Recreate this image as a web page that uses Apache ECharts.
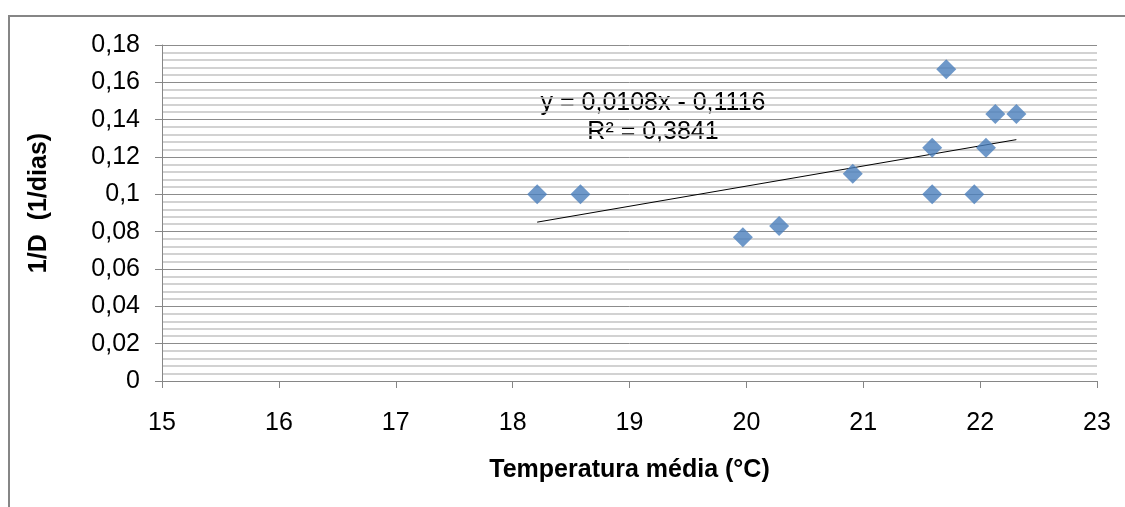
<!DOCTYPE html>
<html>
<head>
<meta charset="utf-8">
<script src="https://cdn.jsdelivr.net/npm/echarts@6/dist/echarts.min.js"></script>
<style>
  html, body { margin: 0; padding: 0; background: #fff; }
  #main { width: 1125px; height: 507px; }
</style>
</head>
<body>
<div id="main"></div>
<script>
// dados
var temperatura = [18.21, 18.58, 19.97, 20.28, 20.91, 21.59, 21.59, 21.71, 21.95, 22.05, 22.13, 22.31];
var inversoD = [0.1, 0.1, 0.077, 0.083, 0.111, 0.125, 0.1, 0.167, 0.1, 0.125, 0.143, 0.143];

// linha de tendência (extremos)
var trendX = [18.21, 22.31];
var trendY = [0.0851, 0.1293];

var equacao = 'y = 0,0108x - 0,1116';
var r2 = 'R² = 0,3841';

var chart = echarts.init(document.getElementById('main'));

var pontos = temperatura.map(function (x, i) { return [x, inversoD[i]]; });
var tendencia = trendX.map(function (x, i) { return [x, trendY[i]]; });

var gray = '#868686';
var fonte = 'Liberation Sans, Arial, sans-serif';

var option = {
  backgroundColor: '#ffffff',
  animation: false,
  textStyle: { fontFamily: fonte, color: '#000' },
  grid: { left: 162, right: 28, top: 45, bottom: 126 },
  xAxis: {
    type: 'value',
    min: 15,
    max: 23,
    interval: 1,
    name: 'Temperatura média (°C)',
    nameLocation: 'middle',
    nameGap: 77,
    nameTextStyle: { fontSize: 25, fontWeight: 'bold', color: '#000' },
    axisLine: { lineStyle: { color: gray, width: 1 } },
    axisTick: { inside: false, length: 7, lineStyle: { color: gray } },
    axisLabel: { fontSize: 25, color: '#000', margin: 30 },
    splitLine: { show: false }
  },
  yAxis: {
    type: 'value',
    min: 0,
    max: 0.18,
    interval: 0.02,
    name: '1/D  (1/dias)',
    nameLocation: 'middle',
    nameGap: 110,
    nameTextStyle: { fontSize: 25, fontWeight: 'bold', color: '#000', padding: [0, 0, 0, 20] },
    axisLine: { show: true, lineStyle: { color: gray, width: 1 } },
    axisTick: { show: true, length: 7, lineStyle: { color: gray } },
    axisLabel: {
      fontSize: 25,
      color: '#000',
      margin: 22,
      formatter: function (v) { return String(+v.toFixed(2)).replace('.', ','); }
    },
    splitLine: { show: true, lineStyle: { color: '#8c8c8c', width: 1 } },
    minorTick: { show: false, splitNumber: 5 },
    minorSplitLine: { show: true, lineStyle: { color: '#c4c4c4', width: 1.5 } }
  },
  series: [
    {
      name: 'tendência',
      type: 'line',
      data: tendencia,
      symbol: 'none',
      lineStyle: { color: '#000', width: 1 },
      z: 2
    },
    {
      name: '1/D',
      type: 'scatter',
      data: pontos,
      symbol: 'diamond',
      symbolSize: 20,
      itemStyle: { color: '#4A7EBB' },
      z: 3
    }
  ],
  graphic: [
    {
      type: 'rect',
      shape: { x: 9, y: 16, width: 1200, height: 600 },
      style: { fill: 'none', stroke: gray, lineWidth: 2 },
      silent: true
    },
    {
      type: 'text',
      x: 653,
      y: 103,
      style: {
        text: equacao,
        fontSize: 25,
        fontFamily: fonte,
        fill: '#000',
        align: 'center',
        verticalAlign: 'middle'
      }
    },
    {
      type: 'text',
      x: 653,
      y: 132,
      style: {
        text: r2,
        fontSize: 25,
        fontFamily: fonte,
        fill: '#000',
        align: 'center',
        verticalAlign: 'middle'
      }
    }
  ]
};

chart.setOption(option);
</script>
</body>
</html>
